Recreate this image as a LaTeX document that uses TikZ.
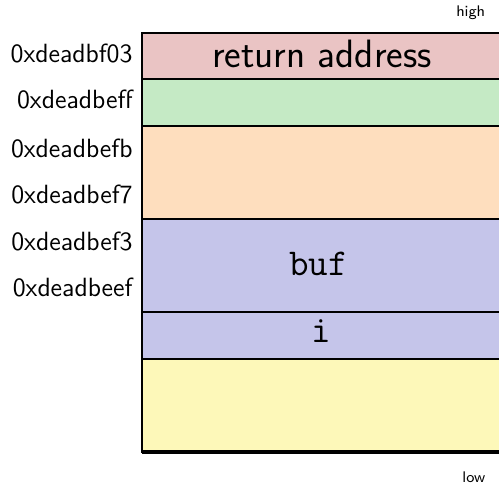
\documentclass[tikz,border=0pt]{standalone}
\usepackage{tikz}
\definecolor{retred}{RGB}{234,196,196}
\definecolor{slotgreen}{RGB}{197,234,197}
\definecolor{slotorange}{RGB}{254,222,190}
\definecolor{slotblue}{RGB}{197,197,234}
\definecolor{slotyellow}{RGB}{253,248,185}

\begin{document}
\begin{tikzpicture}[
  every node/.style={inner sep=0pt,font=\sffamily\large},
  addr/.style={anchor=east},
  slot/.style={draw,thick},
  var/.style={font=\ttfamily\LARGE}]
  \useasboundingbox (0,0) rectangle (7.984,7.76);
  \clip (0,0) rectangle (7.984,7.76);
  \filldraw[slot,fill=slotyellow](2.272,0.53) rectangle (8.03,2.02);
  \filldraw[slot,fill=slotblue](2.272,2.02) rectangle (8.03,2.765);
  \filldraw[slot,fill=slotblue](2.272,2.765) rectangle (8.03,4.255);
  \filldraw[slot,fill=slotorange](2.272,4.255) rectangle (8.03,5.745);
  \filldraw[slot,fill=slotgreen](2.272,5.745) rectangle (8.03,6.49);
  \filldraw[slot,fill=retred](2.272,6.49) rectangle (8.03,7.235);
  \draw[ultra thick](2.272,0.53)--(8.03,0.53);
  \node[font=\sffamily\fontsize{18}{22}\selectfont](ret) at(5.15,6.89){return address};
  \node[var](buf) at(5.1,3.54){buf};
  \node[var](i) at(5.14,2.46){i};
  \node[addr](a8) at(2.128,6.91){0xdeadbf03};
  \node[addr](a7) at(2.128,6.16){0xdeadbeff};
  \node[addr](a6) at(2.128,5.39){0xdeadbefb};
  \node[addr](a5) at(2.128,4.65){0xdeadbef7};
  \node[addr](a4) at(2.128,3.90){0xdeadbef3};
  \node[addr](a3) at(2.128,3.16){0xdeadbeef};
  \node[addr,font=\sffamily\scriptsize](high) at(7.77,7.55){high};
  \node[addr,font=\sffamily\scriptsize](low) at(7.77,0.117){low};
\end{tikzpicture}
\end{document}
